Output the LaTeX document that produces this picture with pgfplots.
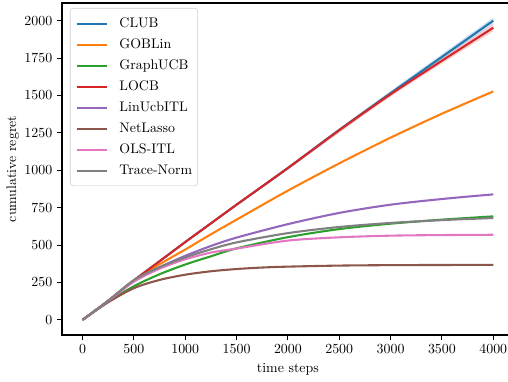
\documentclass[border=0pt]{standalone}
\usepackage{pgfplots}
\pgfplotsset{compat=1.18}
\usepgfplotslibrary{fillbetween}
\definecolor{c0}{HTML}{1F77B4}
\definecolor{c1}{HTML}{FF7F0E}
\definecolor{c2}{HTML}{2CA02C}
\definecolor{c3}{HTML}{D62728}
\definecolor{c4}{HTML}{9467BD}
\definecolor{c5}{HTML}{8C564B}
\definecolor{c6}{HTML}{E377C2}
\definecolor{c7}{HTML}{7F7F7F}
\begin{document}
\begin{tikzpicture}
\begin{axis}[
  scale only axis,
  width=325.3pt, height=239.04pt,
  xmin=-200, xmax=4200, ymin=-101, ymax=2118,
  xtick={0,500,...,4000}, ytick={0,250,...,2000},
  scaled ticks=false,
  /pgf/number format/1000 sep={},
  tick pos=left, tick align=outside,
  major tick length=3.5pt,
  every tick/.style={black, line width=0.8pt},
  axis line style={line width=0.8pt},
  xlabel={time steps}, ylabel={cumulative regret},
  ylabel shift=-3pt,
  every axis plot/.append style={line width=1.5pt, smooth},
  legend cell align=left,
  legend image code/.code={\draw[#1, line width=1.44pt] (0pt,0pt) -- (22pt,0pt);},
  legend style={at={(0.0177,0.985)}, anchor=north west,
    draw=black!20, fill=white, fill opacity=0.8, text opacity=1,
    rounded corners=2pt, font=\normalsize,
    inner xsep=4pt, inner ysep=6pt, row sep=5.12pt, column sep=8pt,
    nodes={inner sep=0pt, text height=7.5pt, text depth=2.5pt}},
]
\coordinate (BL) at (rel axis cs:0,0);
% confidence bands
\addplot[draw=none, forget plot, name path=cu] coordinates {(0,0)(1000,524)(2000,1025)(3000,1530)(4000,2022)};
\addplot[draw=none, forget plot, name path=cl] coordinates {(0,0)(1000,516)(2000,1005)(3000,1500)(4000,1978)};
\addplot[c0, opacity=0.2, forget plot] fill between[of=cu and cl];
\addplot[draw=none, forget plot, name path=lu] coordinates {(0,0)(1000,524)(2000,1025)(3000,1525)(4000,1978)};
\addplot[draw=none, forget plot, name path=ll] coordinates {(0,0)(1000,516)(2000,1005)(3000,1491)(4000,1928)};
\addplot[c3, opacity=0.2, forget plot] fill between[of=lu and ll];
\addplot[c0] coordinates {(0,0)(250,128)(500,264)(750,392)(1000,520)(1250,645)(1500,770)(2000,1015)(2500,1270)(3000,1515)(3500,1758)(4000,2000)};
\addlegendentry{CLUB}
\addplot[c1] coordinates {(0,0)(250,128)(500,263)(750,372)(1000,470)(1250,572)(1500,670)(2000,864)(2500,1046)(3000,1218)(3500,1378)(4000,1527)};
\addlegendentry{GOBLin}
\addplot[c2] coordinates {(0,0)(250,121)(500,225)(750,305)(1000,370)(1250,425)(1500,478)(2000,553)(2500,607)(3000,643)(3500,670)(4000,692)};
\addlegendentry{GraphUCB}
\addplot[c3] coordinates {(0,0)(250,128)(500,264)(750,392)(1000,520)(1250,645)(1500,770)(2000,1015)(2500,1268)(3000,1508)(3500,1732)(4000,1953)};
\addlegendentry{LOCB}
\addplot[c4] coordinates {(0,0)(250,127)(500,262)(750,352)(1000,428)(1250,494)(1500,550)(2000,640)(2500,715)(3000,770)(3500,808)(4000,839)};
\addlegendentry{LinUcbITL}
\addplot[c5] coordinates {(0,0)(250,118)(500,212)(750,267)(1000,302)(1250,325)(1500,340)(1750,350)(2000,356)(2500,363)(3000,366)(3500,367)(4000,368)};
\addlegendentry{NetLasso}
\addplot[c6] coordinates {(0,0)(250,126)(500,255)(750,342)(1000,405)(1250,450)(1500,477)(2000,530)(2500,552)(3000,563)(3500,567)(4000,569)};
\addlegendentry{OLS-ITL}
\addplot[c7] coordinates {(0,0)(250,128)(500,266)(750,352)(1000,418)(1250,472)(1500,518)(2000,580)(2500,621)(3000,648)(3500,667)(4000,681)};
\addlegendentry{Trace-Norm}
\end{axis}
\pgfresetboundingbox
\useasboundingbox ([shift={(-44.64pt,-33.12pt)}]BL) rectangle ++(365.76pt,274.32pt);
\end{tikzpicture}
\end{document}
